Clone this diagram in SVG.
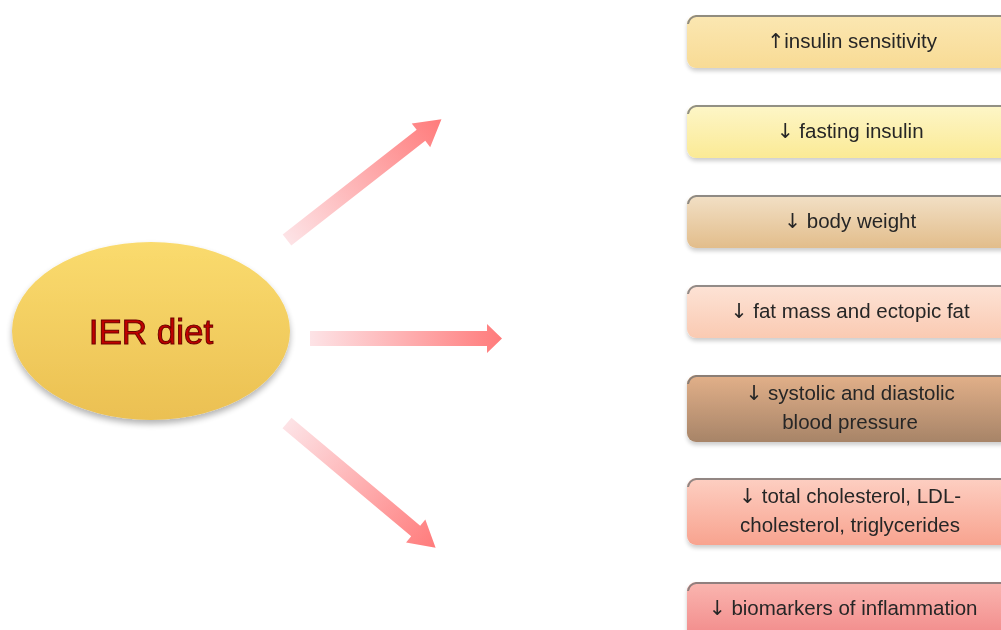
<svg xmlns="http://www.w3.org/2000/svg" width="1001" height="630" viewBox="0 0 1001 630">
<defs>
<style>
.lbl{font-family:"Liberation Sans",Arial,sans-serif;font-size:20.5px;fill:#262626;text-anchor:middle}
.ar{font-family:"DejaVu Sans",sans-serif}
.box{stroke:none}
.topline{fill:none;stroke:#6e6e6e;stroke-width:2;stroke-opacity:0.75}
</style>
<filter id="sh" x="-10%" y="-10%" width="120%" height="140%">
<feGaussianBlur in="SourceAlpha" stdDeviation="2"/>
<feOffset dx="0" dy="3" result="b"/>
<feComponentTransfer><feFuncA type="linear" slope="0.2"/></feComponentTransfer>
<feMerge><feMergeNode/><feMergeNode in="SourceGraphic"/></feMerge>
</filter>
<filter id="esh" x="-10%" y="-10%" width="120%" height="130%">
<feGaussianBlur in="SourceAlpha" stdDeviation="3"/>
<feOffset dx="0" dy="4" result="b"/>
<feComponentTransfer><feFuncA type="linear" slope="0.3"/></feComponentTransfer>
<feMerge><feMergeNode/><feMergeNode in="SourceGraphic"/></feMerge>
</filter>
<linearGradient id="ell" x1="0" y1="0" x2="0" y2="1">
<stop offset="0" stop-color="#FADB6E"/>
<stop offset="1" stop-color="#EBC052"/>
</linearGradient>
<linearGradient id="arr" x1="0" y1="0" x2="1" y2="0">
<stop offset="0" stop-color="#FDE3E6"/>
<stop offset="1" stop-color="#FF7B7B"/>
</linearGradient>
<linearGradient id="g1" x1="0" y1="0" x2="0" y2="1"><stop offset="0" stop-color="#FBE7B2"/><stop offset="1" stop-color="#F8DB95"/></linearGradient>
<linearGradient id="g2" x1="0" y1="0" x2="0" y2="1"><stop offset="0" stop-color="#FDF6C8"/><stop offset="1" stop-color="#FBEA95"/></linearGradient>
<linearGradient id="g3" x1="0" y1="0" x2="0" y2="1"><stop offset="0" stop-color="#F2E0C6"/><stop offset="1" stop-color="#E2BD8B"/></linearGradient>
<linearGradient id="g4" x1="0" y1="0" x2="0" y2="1"><stop offset="0" stop-color="#FDE3D6"/><stop offset="1" stop-color="#FACAB2"/></linearGradient>
<linearGradient id="g5" x1="0" y1="0" x2="0" y2="1"><stop offset="0" stop-color="#E2B089"/><stop offset="1" stop-color="#A78468"/></linearGradient>
<linearGradient id="g6" x1="0" y1="0" x2="0" y2="1"><stop offset="0" stop-color="#FDCFC2"/><stop offset="1" stop-color="#F8A38F"/></linearGradient>
<linearGradient id="g7" x1="0" y1="0" x2="0" y2="1"><stop offset="0" stop-color="#FAB6B0"/><stop offset="1" stop-color="#F18787"/></linearGradient>
</defs>
<rect width="1001" height="630" fill="#ffffff"/>

<g id="connectors">
<g transform="translate(287,240) rotate(-38)">
<path d="M0,-7 L170,-7 L170,-15 L196,0 L170,15 L170,7 L0,7 Z" fill="url(#arr)"/>
</g>
<path d="M310,331 L487,331 L487,324 L502,338.5 L487,353 L487,346 L310,346 Z" fill="url(#arr)"/>
<g transform="translate(287,423) rotate(40)">
<path d="M0,-7 L168,-7 L168,-15 L194,0 L168,15 L168,7 L0,7 Z" fill="url(#arr)"/>
</g>
</g>

<g id="node-ier" filter="url(#esh)">
<ellipse cx="151" cy="331" rx="139" ry="89" fill="url(#ell)"/>
<text x="151" y="344" font-family="'Liberation Sans',Arial,sans-serif" font-size="35" fill="#C00000" stroke="#6a0000" stroke-width="1" text-anchor="middle">IER diet</text>
</g>

<g id="node-1" filter="url(#sh)">
<rect class="box" x="687" y="15" width="330" height="53" rx="9" fill="url(#g1)"/>
<path class="topline" d="M688,24 A9,9 0 0 1 696,16 L1001,16"/>
<text class="lbl" x="852" y="48"><tspan class="ar">↑</tspan>insulin sensitivity</text>
</g>
<g id="node-2" filter="url(#sh)">
<rect class="box" x="687" y="105" width="330" height="53" rx="9" fill="url(#g2)"/>
<path class="topline" d="M688,114 A9,9 0 0 1 696,106 L1001,106"/>
<text class="lbl" x="850" y="138"><tspan class="ar">↓</tspan> fasting insulin</text>
</g>
<g id="node-3" filter="url(#sh)">
<rect class="box" x="687" y="195" width="330" height="53" rx="9" fill="url(#g3)"/>
<path class="topline" d="M688,204 A9,9 0 0 1 696,196 L1001,196"/>
<text class="lbl" x="850" y="228"><tspan class="ar">↓</tspan> body weight</text>
</g>
<g id="node-4" filter="url(#sh)">
<rect class="box" x="687" y="285" width="330" height="53" rx="9" fill="url(#g4)"/>
<path class="topline" d="M688,294 A9,9 0 0 1 696,286 L1001,286"/>
<text class="lbl" x="850" y="318"><tspan class="ar">↓</tspan> fat mass and ectopic fat</text>
</g>
<g id="node-5" filter="url(#sh)">
<rect class="box" x="687" y="375" width="330" height="67" rx="9" fill="url(#g5)"/>
<path class="topline" d="M688,384 A9,9 0 0 1 696,376 L1001,376"/>
<text class="lbl" x="850" y="400"><tspan class="ar">↓</tspan> systolic and diastolic</text>
<text class="lbl" x="850" y="429">blood pressure</text>
</g>
<g id="node-6" filter="url(#sh)">
<rect class="box" x="687" y="478" width="330" height="67" rx="9" fill="url(#g6)"/>
<path class="topline" d="M688,487 A9,9 0 0 1 696,479 L1001,479"/>
<text class="lbl" x="850" y="503"><tspan class="ar">↓</tspan> total cholesterol, LDL-</text>
<text class="lbl" x="850" y="532">cholesterol, triglycerides</text>
</g>
<g id="node-7" filter="url(#sh)">
<rect class="box" x="687" y="582" width="330" height="60" rx="9" fill="url(#g7)"/>
<path class="topline" d="M688,591 A9,9 0 0 1 696,583 L1001,583"/>
<text class="lbl" x="843" y="615"><tspan class="ar">↓</tspan> biomarkers of inflammation</text>
</g>
</svg>
